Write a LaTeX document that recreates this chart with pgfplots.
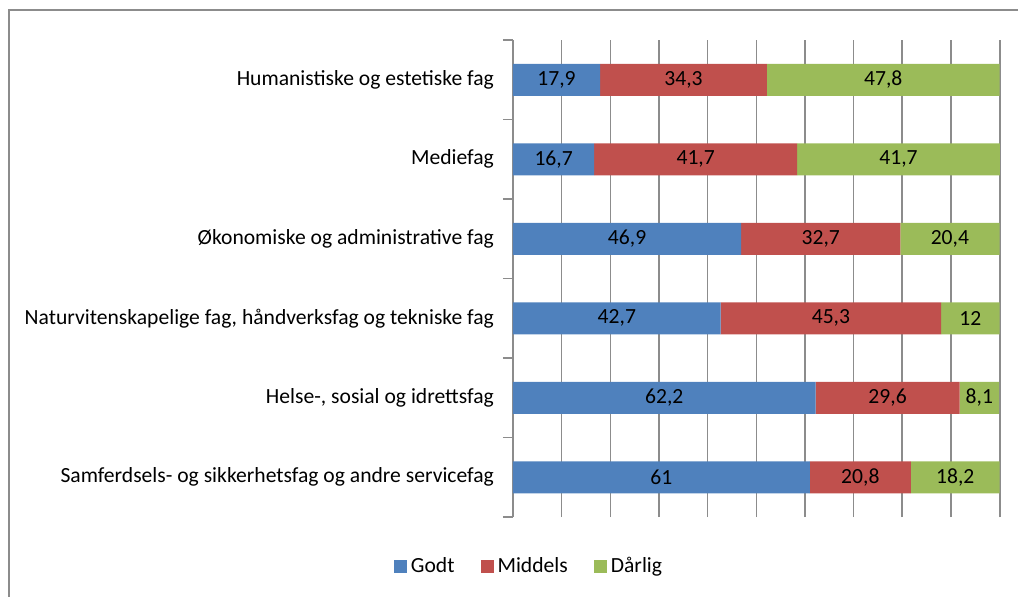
\documentclass[border=0pt]{standalone}
\usepackage{fontspec}
\setmainfont{Carlito}
\usepackage{pgfplots}
\pgfplotsset{compat=1.18}
\definecolor{Godt}{HTML}{4F81BD}
\definecolor{Middels}{HTML}{C0504D}
\definecolor{Darlig}{HTML}{9BBB59}
\definecolor{GridGray}{HTML}{8C8C8C}
\begin{document}
\fontsize{10.8pt}{13pt}\selectfont
\begin{tikzpicture}
\useasboundingbox (-256.5pt,-39.5pt) rectangle (252.5pt,258.5pt);
\draw[GridGray, line width=0.75pt] (-252pt,-45pt) -- (-252pt,253.5pt) -- (260pt,253.5pt);
\begin{axis}[
    scale only axis,
    width=243.5pt, height=238.5pt,
    xbar stacked, bar width=16pt,
    xmin=0, xmax=100.1, ymin=-0.5, ymax=5.5,
    separate axis lines,
    x axis line style={draw=none},
    y axis line style={draw=GridGray, line width=0.75pt},
    xtick={0,10,...,100}, xticklabels={},
    xmajorgrids,
    major grid style={draw=GridGray, line width=0.75pt},
    major x tick style={draw=none},
    ytick={0,...,5},
    yticklabels={Samferdsels- og sikkerhetsfag og andre servicefag,
                 {Helse-, sosial og idrettsfag},
                 {Naturvitenskapelige fag, håndverksfag og tekniske fag},
                 Økonomiske og administrative fag,
                 Mediefag,
                 Humanistiske og estetiske fag},
    major y tick style={draw=none},
    minor ytick={-0.5,0.5,...,5.5},
    minor y tick style={draw=GridGray, line width=0.75pt},
    minor tick length=5pt,
    tick align=outside, ytick pos=left,
    yticklabel style={font=\fontsize{10.8pt}{13pt}\selectfont, xshift=-1.5pt},
    nodes near coords,
    point meta=explicit,
    every node near coord/.append style={font=\fontsize{10.8pt}{13pt}\selectfont, black},
    /pgf/number format/.cd, use comma, assume math mode=true,
    /pgfplots/.cd,
    legend columns=-1,
    legend style={draw=none, fill=none, at={(0.035,-0.103)}, anchor=center,
        font=\fontsize{10.8pt}{13pt}\selectfont,
        /tikz/every even column/.append style={column sep=11pt}},
    legend image code/.code={\fill[#1] (0pt,-3.25pt) rectangle (6.5pt,3.25pt);},
]
\addplot[fill=Godt, draw=none] coordinates {
    (61,0) [61] (62.2,1) [62.2] (42.7,2) [42.7] (46.9,3) [46.9] (16.7,4) [16.7] (17.9,5) [17.9]};
\addlegendentry{Godt}
\addplot[fill=Middels, draw=none] coordinates {
    (20.8,0) [20.8] (29.6,1) [29.6] (45.3,2) [45.3] (32.7,3) [32.7] (41.7,4) [41.7] (34.3,5) [34.3]};
\addlegendentry{Middels}
\addplot[fill=Darlig, draw=none] coordinates {
    (18.2,0) [18.2] (8.1,1) [8.1] (12,2) [12] (20.4,3) [20.4] (41.7,4) [41.7] (47.8,5) [47.8]};
\addlegendentry{Dårlig}
\end{axis}
\end{tikzpicture}
\end{document}
